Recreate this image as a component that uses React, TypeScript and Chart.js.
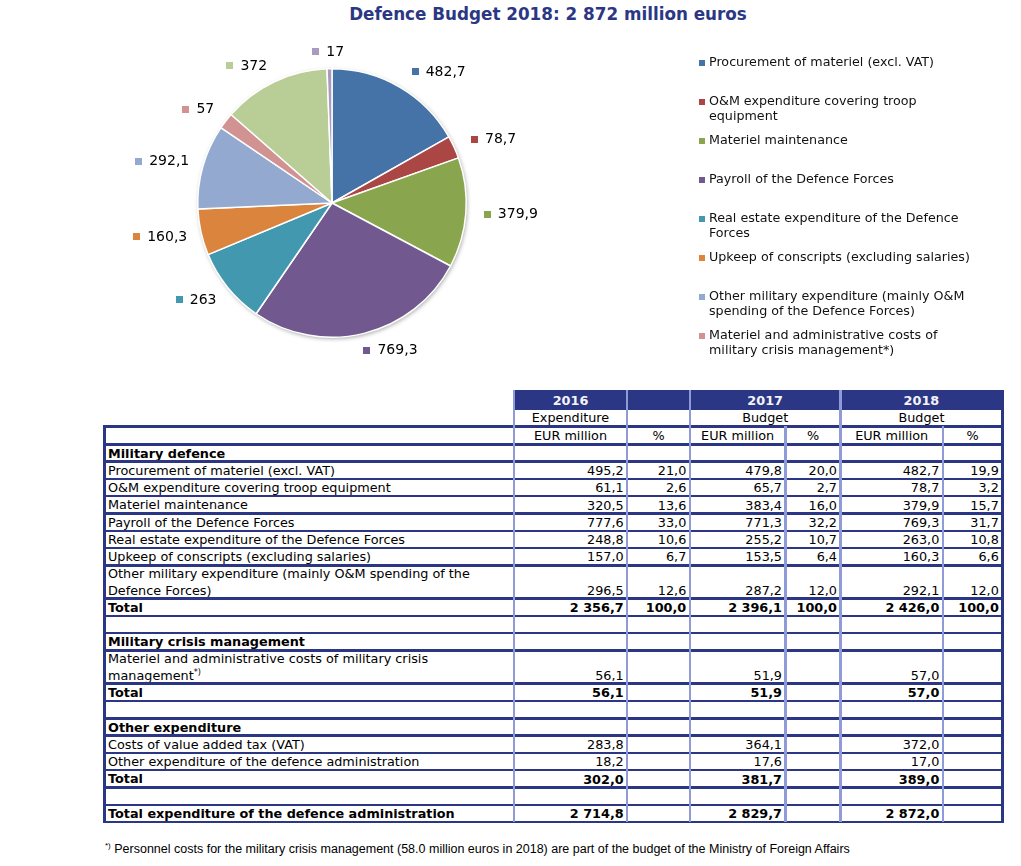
import React, { useEffect, useRef } from "react";
import { Chart, registerables } from "chart.js";

Chart.register(...registerables);

// ---------------- data ----------------
const chartTitle = "Defence Budget 2018: 2 872 million euros";

const sliceLabels = [
  "Procurement of materiel (excl. VAT)",
  "O&M expenditure covering troop equipment",
  "Materiel maintenance",
  "Payroll of the Defence Forces",
  "Real estate expenditure of the Defence Forces",
  "Upkeep of conscripts (excluding salaries)",
  "Other military expenditure (mainly O&M spending of the Defence Forces)",
  "Materiel and administrative costs of military crisis management*)",
  "Costs of value added tax (VAT)",
  "Other expenditure of the defence administration",
];
const sliceValues = [482.7, 78.7, 379.9, 769.3, 263, 160.3, 292.1, 57, 372, 17];
const sliceColors = [
  "#4572A7", "#AA4643", "#89A54E", "#71588F", "#4198AF",
  "#DB843D", "#93A9CF", "#D19392", "#B9CD96", "#A99BBD",
];
const legendCount = 8;

const years = ["2016", "2017", "2018"];
const yearKinds = ["Expenditure", "Budget", "Budget"];
const colHeads = ["EUR million", "%"];

const rowLabels = [
  "Military defence",
  "Procurement of materiel (excl. VAT)",
  "O&M expenditure covering troop equipment",
  "Materiel maintenance",
  "Payroll of the Defence Forces",
  "Real estate expenditure of the Defence Forces",
  "Upkeep of conscripts (excluding salaries)",
  "Other military expenditure (mainly O&M spending of the\nDefence Forces)",
  "Total",
  "",
  "Military crisis management",
  "Materiel and administrative costs of military crisis\nmanagement*)",
  "Total",
  "",
  "Other expenditure",
  "Costs of value added tax (VAT)",
  "Other expenditure of the defence administration",
  "Total",
  "",
  "Total expenditure of the defence administration",
];
const rowBold = [1, 0, 0, 0, 0, 0, 0, 0, 1, 0, 1, 0, 1, 0, 1, 0, 0, 1, 0, 1];
const eur2016 = [null, 495.2, 61.1, 320.5, 777.6, 248.8, 157.0, 296.5, 2356.7, null, null, 56.1, 56.1, null, null, 283.8, 18.2, 302.0, null, 2714.8];
const pct2016 = [null, 21.0, 2.6, 13.6, 33.0, 10.6, 6.7, 12.6, 100.0, null, null, null, null, null, null, null, null, null, null, null];
const eur2017 = [null, 479.8, 65.7, 383.4, 771.3, 255.2, 153.5, 287.2, 2396.1, null, null, 51.9, 51.9, null, null, 364.1, 17.6, 381.7, null, 2829.7];
const pct2017 = [null, 20.0, 2.7, 16.0, 32.2, 10.7, 6.4, 12.0, 100.0, null, null, null, null, null, null, null, null, null, null, null];
const eur2018 = [null, 482.7, 78.7, 379.9, 769.3, 263.0, 160.3, 292.1, 2426.0, null, null, 57.0, 57.0, null, null, 372.0, 17.0, 389.0, null, 2872.0];
const pct2018 = [null, 19.9, 3.2, 15.7, 31.7, 10.8, 6.6, 12.0, 100.0, null, null, null, null, null, null, null, null, null, null, null];

const footnoteMark = "*)";
const footnoteText =
  " Personnel costs for the military crisis management (58.0 million euros in 2018) are part of the budget of the Ministry of Foreign Affairs";

// ---------------- formatting / layout ----------------
const FONT = "'DejaVu Sans', Verdana, sans-serif";
const NAVY = "#2B3784";
const LIGHT = "#8E9BD8";

const fmtTable = (v: number | null) => {
  if (v === null || v === undefined) return "";
  const [i, d] = v.toFixed(1).split(".");
  return i.replace(/\B(?=(\d{3})+(?!\d))/g, " ") + "," + d;
};
const fmtPie = (v: number) => String(v).replace(".", ",");
const clamp = (v: number) => Math.max(-1, Math.min(1, v));

const pieLabelPlugin = {
  id: "pieLabels",
  beforeDatasetsDraw(chart: any) {
    const meta = chart.getDatasetMeta(0);
    const a0 = meta.data[0];
    if (!a0) return;
    const { x, y, outerRadius } = a0.getProps(["x", "y", "outerRadius"], true);
    const ctx = chart.ctx;
    ctx.save();
    ctx.shadowColor = "rgba(0,0,0,0.35)";
    ctx.shadowBlur = 4;
    ctx.shadowOffsetX = 1;
    ctx.shadowOffsetY = 1.5;
    ctx.fillStyle = "#fff";
    ctx.beginPath();
    ctx.arc(x, y, outerRadius, 0, Math.PI * 2);
    ctx.fill();
    ctx.restore();
  },
  afterDatasetsDraw(chart: any) {
    const meta = chart.getDatasetMeta(0);
    const ctx = chart.ctx;
    ctx.save();
    ctx.font = "14px " + FONT;
    ctx.textBaseline = "middle";
    ctx.textAlign = "left";
    meta.data.forEach((arc: any, i: number) => {
      const { x, y, startAngle, endAngle, outerRadius } = arc.getProps(
        ["x", "y", "startAngle", "endAngle", "outerRadius"],
        true
      );
      const mid = (startAngle + endAngle) / 2;
      const text = fmtPie(sliceValues[i]);
      const tw = ctx.measureText(text).width;
      const w = 14 + tw;
      const hh = 5;
      const px = x + Math.cos(mid) * (outerRadius + 12);
      const py = y + Math.sin(mid) * (outerRadius + 12);
      const pad = Math.cos(mid) > 0 ? 6 : 2;
      const cx = px + (w / 2 + pad) * clamp(3 * Math.cos(mid));
      const cy = py + hh * clamp(1.5 * Math.sin(mid));
      const left = cx - w / 2;
      ctx.fillStyle = sliceColors[i];
      ctx.fillRect(Math.round(left), Math.round(cy - 3.5), 7, 7);
      ctx.fillStyle = "#000";
      ctx.fillText(text, left + 14, cy + 0.5);
    });
    ctx.restore();
  },
};

// table geometry
const colEdges = [513.8, 627.2, 689.8, 785.5, 840.5, 942.8, 1002.3];
const yearSpans = [[0, 1], [2, 4], [4, 6]];
const valueCols = [eur2016, pct2016, eur2017, pct2017, eur2018, pct2018];
const tableLeft = 103;
const bandTop = 390;
const bandBottom = 410;
const headLine = 426.7;
const bodyTop = 444.3;
const singleH = 17.3;
const doubleH = 33.2;

export default function App() {
  const canvasRef = useRef<HTMLCanvasElement>(null);

  useEffect(() => {
    const chart = new Chart(canvasRef.current as HTMLCanvasElement, {
      type: "pie",
      data: {
        labels: sliceLabels,
        datasets: [
          {
            data: sliceValues,
            backgroundColor: sliceColors,
            borderColor: "#ffffff",
            borderWidth: 1.5,
          },
        ],
      },
      options: {
        responsive: false,
        animation: false,
        events: [],
        layout: { padding: { left: 97, right: 233, top: 38, bottom: 42 } },
        plugins: { legend: { display: false }, tooltip: { enabled: false } },
      },
      plugins: [pieLabelPlugin as any],
    });
    return () => chart.destroy();
  }, []);

  const els: any[] = [];
  const abs = (l: number, t: number, w: number, h: number, extra: any = {}) => ({
    position: "absolute" as const,
    left: l,
    top: t,
    width: w,
    height: h,
    ...extra,
  });

  // row boundaries
  const bounds: number[] = [bodyTop];
  rowLabels.forEach((lab) => {
    const prev = bounds[bounds.length - 1];
    bounds.push(prev + (lab.includes("\n") ? doubleH : singleH));
  });
  const tableBottom = bounds[bounds.length - 1];

  // header band
  els.push(
    <div key="band" style={abs(colEdges[0], bandTop, colEdges[6] - colEdges[0], bandBottom - bandTop, { background: NAVY })} />
  );
  yearSpans.forEach(([a, b], i) => {
    els.push(
      <div
        key={"yr" + i}
        style={abs(colEdges[a], bandTop, colEdges[b] - colEdges[a], bandBottom - bandTop, {
          display: "flex",
          alignItems: "center",
          justifyContent: "center",
          color: "#F4F4F8",
          fontWeight: "bold",
          lineHeight: "17px",
        })}
      >
        {years[i]}
      </div>
    );
    els.push(
      <div
        key={"kind" + i}
        style={abs(colEdges[a], headLine - 18, colEdges[b] - colEdges[a], 17, {
          textAlign: "center",
          lineHeight: "17px",
        })}
      >
        {yearKinds[i]}
      </div>
    );
  });
  for (let k = 0; k < 6; k++) {
    els.push(
      <div
        key={"ch" + k}
        style={abs(colEdges[k], bodyTop - 17, colEdges[k + 1] - colEdges[k], 17, {
          textAlign: "center",
          lineHeight: "17px",
        })}
      >
        {colHeads[k % 2]}
      </div>
    );
  }

  // body rows
  rowLabels.forEach((lab, r) => {
    const top = bounds[r];
    const bottom = bounds[r + 1];
    const bold = rowBold[r] ? "bold" : "normal";
    let content: any = lab;
    if (lab.endsWith(footnoteMark)) {
      content = (
        <>
          {lab.slice(0, -footnoteMark.length)}
          <sup style={{ fontSize: 8, lineHeight: 0 }}>{footnoteMark}</sup>
        </>
      );
    }
    els.push(
      <div
        key={"lab" + r}
        style={abs(108, top, colEdges[0] - 110, bottom - top, {
          display: "flex",
          alignItems: "flex-end",
          whiteSpace: "pre",
          lineHeight: "17px",
          fontWeight: bold,
          overflow: "visible",
        })}
      >
        <div>{content}</div>
      </div>
    );
    valueCols.forEach((col, k) => {
      const v = col[r];
      if (v === null) return;
      els.push(
        <div
          key={"v" + r + "_" + k}
          style={abs(colEdges[k], bottom - 17, colEdges[k + 1] - colEdges[k] - 3.5, 17, {
            textAlign: "right",
            lineHeight: "17px",
            fontWeight: bold,
            whiteSpace: "nowrap",
          })}
        >
          {fmtTable(v)}
        </div>
      );
    });
  });

  // horizontal navy lines
  [headLine, ...bounds].forEach((b, i) => {
    els.push(<div key={"h" + i} style={abs(tableLeft, b - 1.25, colEdges[6] - tableLeft, 2.5, { background: NAVY })} />);
  });
  // vertical light lines
  colEdges.slice(0, 6).forEach((c, i) => {
    const top = i === 3 || i === 5 ? headLine - 1 : bandTop;
    els.push(<div key={"v" + i} style={abs(c - 1.25, top, 2.5, tableBottom - top, { background: LIGHT })} />);
  });
  // outer borders
  els.push(<div key="bl" style={abs(tableLeft, headLine - 1.25, 2.7, tableBottom - headLine + 2.5, { background: NAVY })} />);
  els.push(<div key="br" style={abs(colEdges[6] - 1.25, bandTop, 2.5, tableBottom - bandTop + 1.25, { background: NAVY })} />);

  return (
    <div
      style={{
        position: "absolute",
        left: 0,
        top: 0,
        width: 1021,
        height: 866,
        background: "#fff",
        fontFamily: FONT,
        fontSize: 12.8,
        color: "#000",
        overflow: "hidden",
      }}
    >
      <div
        style={abs(148, 3.5, 800, 20, {
          textAlign: "center",
          fontWeight: "bold",
          fontSize: 16.8,
          lineHeight: "20px",
          color: NAVY,
          whiteSpace: "nowrap",
        })}
      >
        {chartTitle}
      </div>

      <canvas ref={canvasRef} width={600} height={350} style={{ position: "absolute", left: 100, top: 30, width: 600, height: 350 }} />

      {sliceLabels.slice(0, legendCount).map((lab, i) => (
        <div key={"lg" + i}>
          <div style={abs(699, 53.8 + 39 * i + 6.5, 6, 6, { background: sliceColors[i] })} />
          <div style={abs(709, 53.8 + 39 * i, 270, 32, { lineHeight: "15.5px", fontSize: 12.7, color: "#111" })}>{lab}</div>
        </div>
      ))}

      {els}

      <div
        style={abs(105, 842, 900, 15, {
          fontFamily: "'Liberation Sans', Arial, sans-serif",
          fontSize: 12.5,
          lineHeight: "15px",
          whiteSpace: "nowrap",
          color: "#000",
        })}
      >
        <sup style={{ fontSize: 8, lineHeight: 0 }}>{footnoteMark}</sup>
        {footnoteText}
      </div>
    </div>
  );
}
